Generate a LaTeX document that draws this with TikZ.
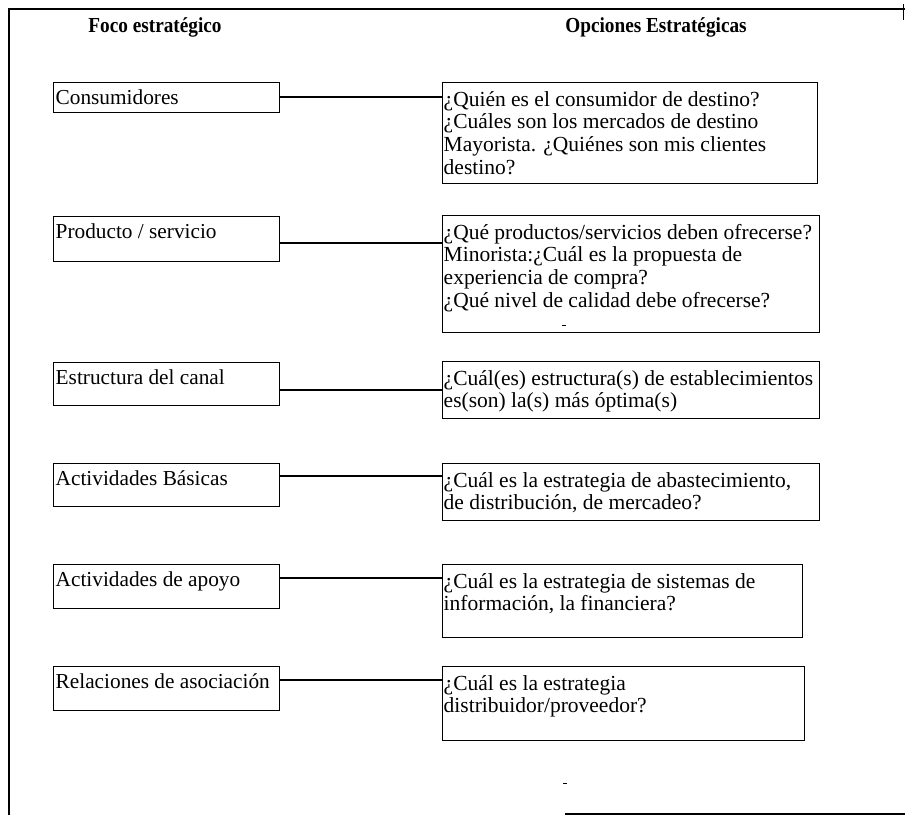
\documentclass[tikz,border=0pt]{standalone}
\usepackage{fontspec}
\setmainfont{Liberation Serif}
\newfontfamily\hfont[FakeStretch=0.9]{Liberation Serif}
\usetikzlibrary{calc}
\tikzset{
  frame/.style={line width=1.8pt, black},
  lbox/.style={draw, line width=0.9pt, rectangle, anchor=north west, inner sep=0pt, minimum width=226pt},
  rbox/.style={draw, line width=0.9pt, rectangle, anchor=north west, inner sep=0pt},
  ltext/.style={anchor=base west, inner sep=0pt, font=\fontsize{21.3}{24}\selectfont},
  rtext/.style={anchor=north west, inner sep=0pt, align=left, font=\fontsize{21.5}{22.7}\selectfont},
  head/.style={inner sep=0pt, font=\hfont\bfseries\fontsize{21.4}{25}\selectfont},
  conn/.style={line width=1.3pt},
  speck/.style={line width=1pt}
}
\begin{document}
\begin{tikzpicture}[x=1pt,y=-1pt]
\useasboundingbox (0,0) rectangle (905,815);
\fill[white] (0,0) rectangle (905,815);
% frame
\draw[frame] (9,815) -- (9,9) -- (905,9);
\draw[frame] (565,814) -- (905,814);
\draw[line width=1pt] (903,4) -- (903,20);
% headers
\node[head] (h1) at (155,27) {Foco estratégico};
\node[head] (h2) at (656,27) {Opciones Estratégicas};
% left boxes
\node[lbox, minimum height=30pt] (l1) at (53,82) {};
\node[lbox, minimum height=45pt] (l2) at (53,216) {};
\node[lbox, minimum height=43pt] (l3) at (53,362) {};
\node[lbox, minimum height=43pt] (l4) at (53,463) {};
\node[lbox, minimum height=44pt] (l5) at (53,564) {};
\node[lbox, minimum height=44pt] (l6) at (53,666) {};
\node[ltext] (t1) at ($(l1.north west)+(2.5,22)$) {Consumidores};
\node[ltext] (t2) at ($(l2.north west)+(2.5,22)$) {Producto / servicio};
\node[ltext] (t3) at ($(l3.north west)+(2.5,22)$) {Estructura del canal};
\node[ltext] (t4) at ($(l4.north west)+(2.5,22)$) {Actividades Básicas};
\node[ltext] (t5) at ($(l5.north west)+(2.5,22)$) {Actividades de apoyo};
\node[ltext] (t6) at ($(l6.north west)+(2.5,22)$) {Relaciones de asociación};
% right boxes
\node[rbox, minimum width=375pt, minimum height=101pt] (r1) at (442,82) {};
\node[rbox, minimum width=377pt, minimum height=117pt] (r2) at (442,215) {};
\node[rbox, minimum width=377pt, minimum height=57pt] (r3) at (442,361) {};
\node[rbox, minimum width=377pt, minimum height=57pt] (r4) at (442,463) {};
\node[rbox, minimum width=360pt, minimum height=73pt] (r5) at (442,564) {};
\node[rbox, minimum width=362pt, minimum height=74pt] (r6) at (442,666) {};
\node[rtext] (q1) at ($(r1.north west)+(1.5,0)$) {\rule{0pt}{24pt}¿Quién es el consumidor de destino?\\¿Cuáles son los mercados de destino\\Mayorista. ¿Quiénes son mis clientes\\destino?};
\node[rtext] (q2) at ($(r2.north west)+(1.5,0)$) {\rule{0pt}{24pt}¿Qué productos/servicios deben ofrecerse?\\Minorista:¿Cuál es la propuesta de\\experiencia de compra?\\¿Qué nivel de calidad debe ofrecerse?};
\node[rtext] (q3) at ($(r3.north west)+(1.5,0)$) {\rule{0pt}{24pt}¿Cuál(es) estructura(s) de establecimientos\\es(son) la(s) más óptima(s)};
\node[rtext] (q4) at ($(r4.north west)+(1.5,0)$) {\rule{0pt}{24pt}¿Cuál es la estrategia de abastecimiento,\\de distribución, de mercadeo?};
\node[rtext] (q5) at ($(r5.north west)+(1.5,0)$) {\rule{0pt}{24pt}¿Cuál es la estrategia de sistemas de\\información, la financiera?};
\node[rtext] (q6) at ($(r6.north west)+(1.5,0)$) {\rule{0pt}{24pt}¿Cuál es la estrategia\\distribuidor/proveedor?};
% connectors
\path (l1.north east) ++(0,15) coordinate (c1);
\path (l2.north east) ++(0,27) coordinate (c2);
\path (l3.north east) ++(0,28) coordinate (c3);
\path (l4.north east) ++(0,13) coordinate (c4);
\path (l5.north east) ++(0,14) coordinate (c5);
\path (l6.north east) ++(0,14) coordinate (c6);
\draw[conn] (c1) -- (c1 -| r1.west);
\draw[conn] (c2) -- (c2 -| r2.west);
\draw[conn] (c3) -- (c3 -| r3.west);
\draw[conn] (c4) -- (c4 -| r4.west);
\draw[conn] (c5) -- (c5 -| r5.west);
\draw[conn] (c6) -- (c6 -| r6.west);
% specks
\draw[speck] (562,325) -- (566,325);
\draw[speck] (563,783) -- (567,783);
\end{tikzpicture}
\end{document}
